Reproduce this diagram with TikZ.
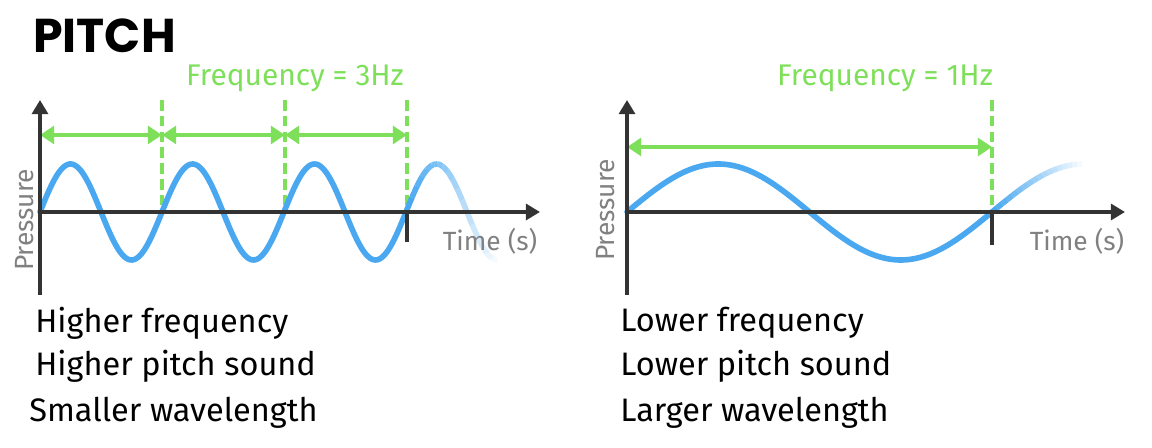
\documentclass[tikz,border=0pt]{standalone}
\usepackage{fontspec}
\setmainfont{Fira Sans}
\newfontfamily\titlefont{Poppins}
\usetikzlibrary{arrows.meta}
\definecolor{wblue}{HTML}{4AA8F0}
\definecolor{fgreen}{HTML}{7EE05A}
\definecolor{axc}{HTML}{333333}
\begin{document}
\begin{tikzpicture}[x=0.02cm,y=-0.02cm,
  axis/.style={axc,line width=2.5pt,-{Triangle[length=8pt,width=9pt]}},
  dashv/.style={fgreen,line width=2pt,dash pattern=on 6pt off 3pt},
  garrow/.style={fgreen,line width=2.2pt,{Triangle[length=8pt,width=10pt]}-{Triangle[length=8pt,width=10pt]}},
  wave/.style={wblue,line width=3.2pt},
  lbl/.style={font=\fontsize{18.5}{21}\selectfont,anchor=west,inner sep=0pt},
  gl/.style={gray,font=\fontsize{15}{17}\selectfont,inner sep=0pt},
  fl/.style={fgreen,font=\fontsize{17}{19}\selectfont,inner sep=0pt}]
\useasboundingbox (0,0) rectangle (1152,448);
\node[anchor=west,inner sep=0pt,font=\titlefont\fontsize{27}{30}\selectfont\bfseries] (title) at (33,36) {PITCH};
% left panel
\foreach \xx/\n in {162/a,285/b,407/c}{\draw[dashv] (\xx,100) -- (\xx,212);}
\coordinate (l0) at (40,135); \coordinate (l1) at (162,135); \coordinate (l2) at (285,135); \coordinate (l3) at (407,135);
\draw[garrow] (l0) -- (l1); \draw[garrow] (l1) -- (l2); \draw[garrow] (l2) -- (l3);
\node[fl] (f3) at (295,78) {Frequency = 3Hz};
\draw[wave,line cap=round] plot[domain=40:407,samples=200,smooth] (\x,{212-48*sin(2.9508*(\x-40))});
\foreach \i in {0,...,17}{
  \pgfmathsetmacro\op{1-\i/18}
  \draw[wave,opacity=\op] plot[domain={407+5*\i}:{412+5*\i},samples=4] (\x,{212-48*sin(2.9508*(\x-40))});}
\coordinate (lo) at (40,212);
\draw[axc,line width=2.5pt] (40,295) -- (40,212);
\draw[axis] (40,212) -- (40,100);
\draw[axis] (lo) -- (540,212);
\draw[axc,line width=2.5pt] (407,212) -- (407,242);
\node[gl] (t1) at (490,241) {Time (s)};
\node[gl,rotate=90] (p1) at (25,220) {Pressure};
\node[lbl] (h1) at (35,323) {Higher frequency};
\node[lbl] (h2) at (35,366) {Higher pitch sound};
\node[lbl] (h3) at (29,413) {Smaller wavelength};
% right panel
\draw[dashv] (992,100) -- (992,212);
\coordinate (r0) at (627,147); \coordinate (r1) at (992,147);
\draw[garrow] (r0) -- (r1);
\node[fl] (f1) at (885,78) {Frequency = 1Hz};
\draw[wave,line cap=round] plot[domain=627:992,samples=200,smooth] (\x,{212-48*sin(0.98630*(\x-627))});
\foreach \i in {0,...,17}{
  \pgfmathsetmacro\op{1-\i/18}
  \draw[wave,opacity=\op] plot[domain={992+5*\i}:{997+5*\i},samples=4] (\x,{212-48*sin(0.98630*(\x-627))});}
\coordinate (ro) at (627,212);
\draw[axc,line width=2.5pt] (627,295) -- (627,212);
\draw[axis] (627,212) -- (627,100);
\draw[axis] (ro) -- (1125,212);
\draw[axc,line width=2.5pt] (992,212) -- (992,245);
\node[gl] (t2) at (1077,241) {Time (s)};
\node[gl,rotate=90] (p2) at (606,210) {Pressure};
\node[lbl] (k1) at (620,323) {Lower frequency};
\node[lbl] (k2) at (620,366) {Lower pitch sound};
\node[lbl] (k3) at (620,413) {Larger wavelength};
\end{tikzpicture}
\end{document}
